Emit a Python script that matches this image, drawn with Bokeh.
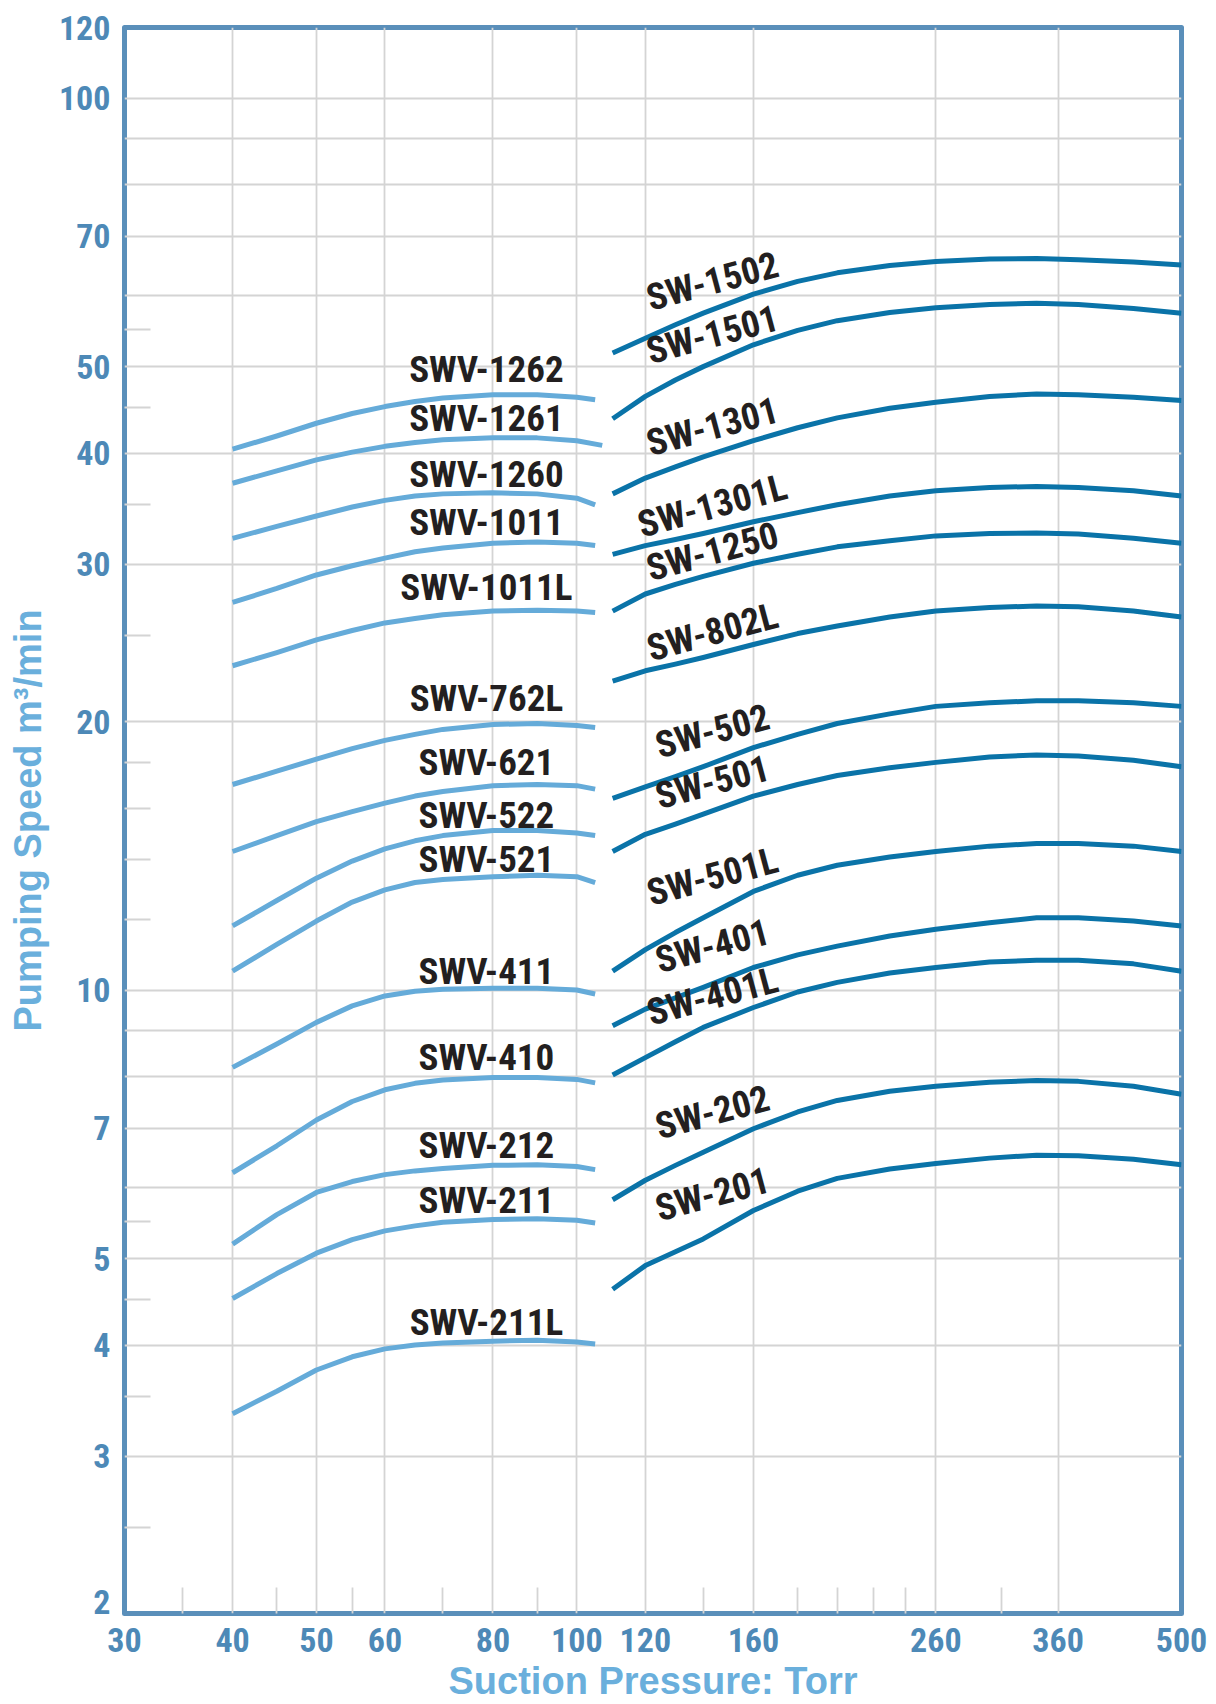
import math
from bokeh.plotting import figure
from bokeh.models import Range1d, FixedTicker, CustomJSTickFormatter, ColumnDataSource
from bokeh.core.properties import value
from bokeh.embed import file_html
from bokeh.resources import INLINE

# ---------------- data ----------------
x_tick_labels = [30, 40, 50, 60, 80, 100, 120, 160, 260, 360, 500]
x_grid_values = [40, 50, 60, 80, 100, 120, 160, 260, 360]
x_short_ticks = [35, 45, 55, 70, 90, 140, 180, 200, 220, 240, 310]

y_tick_labels = [2, 3, 4, 5, 7, 10, 20, 30, 40, 50, 70, 100, 120]
y_grid_values = [3, 4, 5, 6, 7, 8, 9, 10, 20, 30, 40, 50, 60, 70, 80, 90, 100]
y_short_ticks = [2.5, 3.5, 4.5, 5.5, 12, 14, 16, 18, 25, 35, 45, 55]

# SWV series (light blue)
swv_x = [40, 45, 50, 55, 60, 65, 70, 80, 90, 100, 105]
swv_x_1261 = [40, 45, 50, 55, 60, 65, 70, 80, 90, 100, 107]
swv_names = ["SWV-1262", "SWV-1261", "SWV-1260", "SWV-1011", "SWV-1011L", "SWV-762L",
             "SWV-621", "SWV-522", "SWV-521", "SWV-411", "SWV-410", "SWV-212",
             "SWV-211", "SWV-211L"]
swv_1262 = [40.4, 41.8, 43.2, 44.3, 45.1, 45.7, 46.1, 46.5, 46.5, 46.2, 45.9]
swv_1261 = [37.0, 38.2, 39.3, 40.1, 40.7, 41.1, 41.4, 41.6, 41.6, 41.3, 40.8]
swv_1260 = [32.1, 33.1, 34.0, 34.8, 35.4, 35.8, 36.0, 36.1, 36.0, 35.6, 35.0]
swv_1011 = [27.2, 28.2, 29.2, 29.9, 30.5, 31.0, 31.3, 31.7, 31.8, 31.7, 31.5]
swv_1011L = [23.1, 23.9, 24.7, 25.3, 25.8, 26.1, 26.35, 26.6, 26.65, 26.6, 26.5]
swv_762L = [17.0, 17.6, 18.15, 18.65, 19.05, 19.35, 19.6, 19.85, 19.9, 19.8, 19.7]
swv_621 = [14.3, 14.9, 15.45, 15.85, 16.2, 16.5, 16.7, 16.95, 17.0, 16.95, 16.8]
swv_522 = [11.8, 12.6, 13.35, 13.95, 14.4, 14.7, 14.9, 15.1, 15.1, 15.0, 14.9]
swv_521 = [10.5, 11.25, 11.95, 12.55, 12.95, 13.2, 13.3, 13.4, 13.45, 13.4, 13.2]
swv_411 = [8.19, 8.7, 9.2, 9.6, 9.85, 9.97, 10.02, 10.05, 10.05, 10.0, 9.9]
swv_410 = [6.24, 6.69, 7.15, 7.5, 7.73, 7.86, 7.93, 7.98, 7.98, 7.94, 7.87]
swv_212 = [5.19, 5.6, 5.93, 6.1, 6.21, 6.27, 6.31, 6.36, 6.37, 6.34, 6.29]
swv_211 = [4.51, 4.81, 5.07, 5.25, 5.37, 5.44, 5.49, 5.53, 5.54, 5.52, 5.48]
swv_211L = [3.35, 3.55, 3.75, 3.88, 3.96, 4.0, 4.02, 4.04, 4.05, 4.03, 4.01]
swv_series = [swv_1262, swv_1261, swv_1260, swv_1011, swv_1011L, swv_762L, swv_621,
              swv_522, swv_521, swv_411, swv_410, swv_212, swv_211, swv_211L]
swv_label_y = [49.6, 43.7, 37.8, 33.4, 28.3, 21.2, 18.0, 15.7, 14.0, 10.5, 8.4, 6.69, 5.81, 4.24]
swv_label_x = 78.6

# SW series (dark blue)
sw_x = [110, 120, 130, 140, 160, 180, 200, 230, 260, 300, 340, 380, 440, 500]
sw_names = ["SW-1502", "SW-1501", "SW-1301", "SW-1301L", "SW-1250", "SW-802L",
            "SW-502", "SW-501", "SW-501L", "SW-401", "SW-401L", "SW-202", "SW-201"]
sw_1502 = [51.8, 53.8, 55.7, 57.4, 60.3, 62.3, 63.7, 64.9, 65.6, 66.0, 66.1, 65.9, 65.5, 65.0]
sw_1501 = [43.7, 46.3, 48.3, 50.0, 52.9, 54.9, 56.3, 57.5, 58.2, 58.7, 58.9, 58.7, 58.1, 57.4]
sw_1301 = [36.0, 37.5, 38.6, 39.6, 41.3, 42.7, 43.8, 44.9, 45.6, 46.3, 46.6, 46.5, 46.2, 45.8]
sw_1301L = [30.8, 31.5, 32.0, 32.5, 33.5, 34.3, 35.0, 35.8, 36.3, 36.6, 36.7, 36.6, 36.3, 35.8]
sw_1250 = [26.6, 27.8, 28.5, 29.1, 30.1, 30.8, 31.4, 31.9, 32.3, 32.5, 32.55, 32.45, 32.1, 31.7]
sw_802L = [22.2, 22.8, 23.2, 23.6, 24.4, 25.1, 25.6, 26.2, 26.6, 26.85, 26.95, 26.9, 26.6, 26.2]
sw_502 = [16.4, 16.9, 17.35, 17.8, 18.7, 19.35, 19.9, 20.4, 20.8, 21.0, 21.1, 21.1, 21.0, 20.8]
sw_501 = [14.3, 14.95, 15.35, 15.75, 16.5, 17.0, 17.4, 17.75, 18.0, 18.25, 18.35, 18.3, 18.1, 17.8]
sw_501L = [10.5, 11.1, 11.6, 12.05, 12.9, 13.45, 13.8, 14.1, 14.3, 14.5, 14.6, 14.6, 14.5, 14.3]
sw_401 = [9.12, 9.52, 9.8, 10.07, 10.6, 10.95, 11.2, 11.5, 11.7, 11.9, 12.05, 12.05, 11.95, 11.8]
sw_401L = [8.03, 8.4, 8.75, 9.08, 9.56, 9.95, 10.2, 10.45, 10.6, 10.75, 10.8, 10.8, 10.7, 10.5]
sw_202 = [5.82, 6.12, 6.36, 6.58, 6.99, 7.3, 7.52, 7.7, 7.8, 7.88, 7.92, 7.9, 7.8, 7.64]
sw_201 = [4.62, 4.91, 5.09, 5.26, 5.66, 5.95, 6.15, 6.3, 6.39, 6.48, 6.53, 6.52, 6.46, 6.37]
sw_series = [sw_1502, sw_1501, sw_1301, sw_1301L, sw_1250, sw_802L, sw_502, sw_501,
             sw_501L, sw_401, sw_401L, sw_202, sw_201]
sw_label_y = [62.3, 54.3, 42.8, 34.9, 31.0, 25.2, 19.5, 17.1, 13.4, 11.2, 9.84, 7.29, 5.9]
sw_label_x = 143.5

# ---------------- styles ----------------
LIGHT = "#65abd9"
DARK = "#0a73a8"
BORDER = "#5a8fba"
TICKCOL = "#4d89b7"
TITLECOL = "#6aafdc"
GRID = "#d4d4d4"
LABELCOL = "#231f20"
COND = "Roboto Condensed"

p = figure(width=1216, height=1704, x_axis_type="log", y_axis_type="log",
           x_range=Range1d(30, 500), y_range=Range1d(2, 120),
           output_backend="svg", toolbar_location=None,
           min_border_left=124, min_border_right=35, min_border_top=27, min_border_bottom=89)

p.background_fill_color = "white"
p.border_fill_color = "white"
p.outline_line_color = BORDER
p.outline_line_width = 5
p.outline_line_join = "round"

# the lowest y label sits slightly above the bottom edge in the original
y_label_positions = [2.06] + y_tick_labels[1:]
p.xaxis.ticker = FixedTicker(ticks=x_tick_labels, minor_ticks=x_short_ticks)
p.yaxis.ticker = FixedTicker(ticks=y_label_positions, minor_ticks=y_short_ticks)
p.xgrid.ticker = FixedTicker(ticks=x_grid_values)
p.ygrid.ticker = FixedTicker(ticks=y_grid_values)
for g in (p.xgrid, p.ygrid):
    g.grid_line_color = GRID
    g.grid_line_width = 1.8

fmt = CustomJSTickFormatter(code="return String(Math.round(tick));")
p.xaxis.formatter = fmt
p.yaxis.formatter = fmt
p.axis.axis_line_color = None
p.axis.major_tick_line_color = None
p.axis.major_tick_in = 0
p.axis.major_tick_out = 0
p.axis.minor_tick_in = 26
p.axis.minor_tick_out = 0
p.axis.minor_tick_line_color = GRID
p.axis.minor_tick_line_width = 1.8
p.axis.major_label_text_font = COND
p.axis.major_label_text_font_style = "bold"
p.axis.major_label_text_font_size = "34px"
p.axis.major_label_text_color = TICKCOL
p.xaxis.major_label_standoff = 14
p.yaxis.major_label_standoff = 14

p.xaxis.axis_label = "Suction Pressure: Torr"
p.yaxis.axis_label = "Pumping Speed m³/min"
p.axis.axis_label_text_font = "Liberation Sans"
p.axis.axis_label_text_font_style = "bold"
p.axis.axis_label_text_font_size = "38px"
p.axis.axis_label_text_color = TITLECOL
p.xaxis.axis_label_text_line_height = 1.0
p.xaxis.axis_label_standoff = 5
p.yaxis.axis_label_standoff = 7

# curves
for i, ys in enumerate(swv_series):
    xs = swv_x_1261 if i == 1 else swv_x
    p.line(xs, ys, line_color=LIGHT, line_width=5, line_join="round")
for ys in sw_series:
    p.line(sw_x, ys, line_color=DARK, line_width=5, line_join="round")

# curve labels
swv_src = ColumnDataSource(dict(x=[swv_label_x] * len(swv_names), y=swv_label_y, t=swv_names))
p.text(x="x", y="y", text="t", source=swv_src, text_font=value(COND), text_font_style="bold",
       text_font_size="37px", text_color=LABELCOL, text_align="center", text_baseline="middle")
sw_src = ColumnDataSource(dict(x=[sw_label_x] * len(sw_names), y=sw_label_y, t=sw_names))
p.text(x="x", y="y", text="t", source=sw_src, text_font=value(COND), text_font_style="bold",
       text_font_size="37px", text_color=LABELCOL, text_align="center", text_baseline="middle",
       angle=math.radians(15))

open("out.html", "w").write(file_html(p, INLINE))
